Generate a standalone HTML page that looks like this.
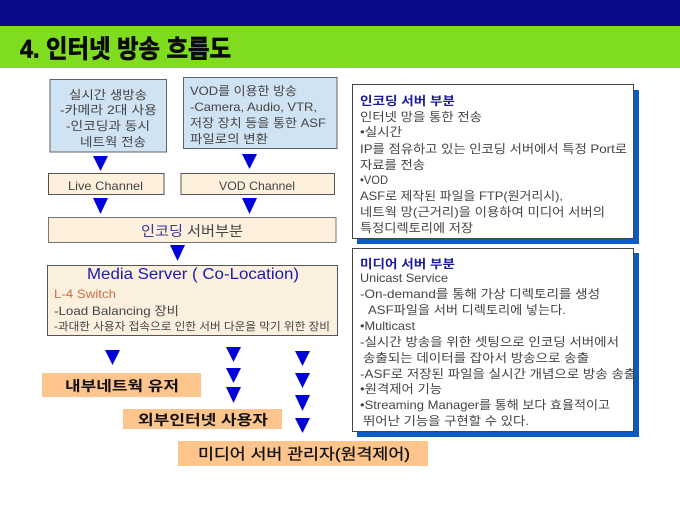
<!DOCTYPE html>
<html><head><meta charset="utf-8"><style>
html,body{margin:0;padding:0;background:#fff;width:680px;height:510px;overflow:hidden}
svg{display:block;filter:blur(0.35px)}
text{font-family:"Liberation Sans","Noto Sans CJK KR",sans-serif;fill:#444;font-size:12px}
</style></head><body>
<svg width="680" height="510" viewBox="0 0 680 510" xmlns="http://www.w3.org/2000/svg">
<rect width="680" height="510" fill="#fff"/>
<rect width="680" height="26" fill="#0a0a8a"/>
<rect y="26" width="680" height="42" fill="#80dc1e"/>
<text x="20" y="57.500" style="font-size:25px;font-weight:bold;fill:#0a0a0a;stroke:#0a0a0a;stroke-width:.7" textLength="211" lengthAdjust="spacingAndGlyphs">4. 인터넷 방송 흐름도</text>

<rect x="50" y="79.500" width="116.500" height="72.500" fill="#cfe3f2" stroke="#5a6570" stroke-width="1"/>
<rect x="183.500" y="77.500" width="153.500" height="71" fill="#cfe3f2" stroke="#5a6570" stroke-width="1"/>
<text x="69" y="99" textLength="78" lengthAdjust="spacingAndGlyphs">실시간 생방송</text>
<text x="60" y="114" textLength="97" lengthAdjust="spacingAndGlyphs">-카메라 2대 사용</text>
<text x="66" y="130" textLength="84" lengthAdjust="spacingAndGlyphs">-인코딩과 동시</text>
<text x="80" y="146" textLength="66" lengthAdjust="spacingAndGlyphs">네트웍 전송</text>
<text x="190" y="95" textLength="107" lengthAdjust="spacingAndGlyphs">VOD를 이용한 방송</text>
<text x="190" y="111" textLength="127" lengthAdjust="spacingAndGlyphs">-Camera, Audio, VTR,</text>
<text x="190" y="127" textLength="136" lengthAdjust="spacingAndGlyphs">저장 장치 등을 통한 ASF</text>
<text x="190" y="143" textLength="78" lengthAdjust="spacingAndGlyphs">파일로의 변환</text>

<rect x="48.500" y="173.500" width="115.500" height="21" fill="#fdf0dc" stroke="#555" stroke-width="1"/>
<rect x="181" y="173.500" width="153.500" height="21" fill="#fdf0dc" stroke="#555" stroke-width="1"/>
<text x="68" y="190" textLength="75" lengthAdjust="spacingAndGlyphs">Live Channel</text>
<text x="219" y="190" textLength="76" lengthAdjust="spacingAndGlyphs">VOD Channel</text>

<rect x="48.500" y="217.500" width="287.500" height="25" fill="#fdf0dc" stroke="#777" stroke-width="1"/>
<text x="141" y="236" style="font-size:14px;fill:#3a3a9a" textLength="42" lengthAdjust="spacingAndGlyphs">인코딩</text>
<text x="187" y="236" style="font-size:14px" textLength="56" lengthAdjust="spacingAndGlyphs">서버부분</text>

<rect x="47.500" y="265.500" width="290" height="70" fill="#fbf0de" stroke="#555" stroke-width="1"/>
<text x="87" y="279" style="font-size:16px;fill:#1a1ab0" textLength="212" lengthAdjust="spacingAndGlyphs">Media Server ( Co-Location)</text>
<text x="54" y="298" style="font-size:12px;fill:#c8704a" textLength="62" lengthAdjust="spacingAndGlyphs">L-4 Switch</text>
<text x="54" y="315" textLength="125" lengthAdjust="spacingAndGlyphs">-Load Balancing 장비</text>
<text x="54" y="330" style="font-size:11px" textLength="276" lengthAdjust="spacingAndGlyphs">-과대한 사용자 접속으로 인한 서버 다운을 막기 위한 장비</text>

<g fill="#0000d8">
<polygon points="93,156 108,156 100.500,171"/>
<polygon points="242,154 257,154 249.500,169"/>
<polygon points="93,198 108,198 100.500,214"/>
<polygon points="242,198 257,198 249.500,214"/>
<polygon points="170,245 185,245 177.500,261"/>
<polygon points="105,350 120,350 112.500,365"/>
<polygon points="226,347 241,347 233.500,362"/>
<polygon points="226,368 241,368 233.500,383"/>
<polygon points="226,387 241,387 233.500,403"/>
<polygon points="295,351 310,351 302.500,366"/>
<polygon points="295,373 310,373 302.500,388"/>
<polygon points="295,395 310,395 302.500,411"/>
<polygon points="295,418 310,418 302.500,433"/>
</g>

<rect x="42" y="373" width="159" height="24" fill="#fdc58c"/>
<rect x="123" y="409" width="159" height="20" fill="#fdc58c"/>
<rect x="178" y="441" width="250" height="25" fill="#fdc58c"/>
<text x="65" y="391" style="font-size:14px;fill:#111;font-weight:bold" textLength="114" lengthAdjust="spacingAndGlyphs">내부네트웍 유저</text>
<text x="138" y="425" style="font-size:14px;fill:#111;font-weight:bold" textLength="130" lengthAdjust="spacingAndGlyphs">외부인터넷 사용자</text>
<text x="198" y="459" style="font-size:15px;fill:#111;stroke:#111;stroke-width:.3" textLength="212" lengthAdjust="spacingAndGlyphs">미디어 서버 관리자(원격제어)</text>

<rect x="357" y="90" width="282" height="154" fill="#0a5cc0"/>
<rect x="352.500" y="84.500" width="281" height="154" fill="#fff" stroke="#444" stroke-width="1"/>
<text x="360" y="105" style="fill:#1a1a9a;font-weight:bold" textLength="95" lengthAdjust="spacingAndGlyphs">인코딩 서버 부분</text>
<text x="360" y="121" textLength="122" lengthAdjust="spacingAndGlyphs">인터넷 망을 통한 전송</text>
<text x="360" y="136" textLength="42" lengthAdjust="spacingAndGlyphs">•실시간</text>
<text x="360" y="153" textLength="267" lengthAdjust="spacingAndGlyphs">IP를 점유하고 있는 인코딩 서버에서 특정 Port로</text>
<text x="360" y="169" textLength="65" lengthAdjust="spacingAndGlyphs">자료를 전송</text>
<text x="360" y="184" textLength="28" lengthAdjust="spacingAndGlyphs">•VOD</text>
<text x="360" y="200" textLength="203" lengthAdjust="spacingAndGlyphs">ASF로 제작된 파일을 FTP(원거리시),</text>
<text x="360" y="216" textLength="245" lengthAdjust="spacingAndGlyphs">네트웍 망(근거리)을 이용하여 미디어 서버의</text>
<text x="360" y="232" textLength="113" lengthAdjust="spacingAndGlyphs">특정디렉토리에 저장</text>

<rect x="357" y="253" width="282" height="184" fill="#0a5cc0"/>
<rect x="352.500" y="248.500" width="281" height="183" fill="#fff" stroke="#444" stroke-width="1"/>
<text x="360" y="268" style="fill:#1a1a9a;font-weight:bold" textLength="95" lengthAdjust="spacingAndGlyphs">미디어 서버 부분</text>
<text x="360" y="282" textLength="88" lengthAdjust="spacingAndGlyphs">Unicast Service</text>
<text x="360" y="298" textLength="240" lengthAdjust="spacingAndGlyphs">-On-demand를 통해 가상 디렉토리를 생성</text>
<text x="368" y="314" textLength="198" lengthAdjust="spacingAndGlyphs">ASF파일을 서버 디렉토리에 넣는다.</text>
<text x="360" y="330" textLength="55" lengthAdjust="spacingAndGlyphs">•Multicast</text>
<text x="360" y="346" textLength="259" lengthAdjust="spacingAndGlyphs">-실시간 방송을 위한 셋팅으로 인코딩 서버에서</text>
<text x="363" y="362" textLength="226" lengthAdjust="spacingAndGlyphs">송출되는 데이터를 잡아서 방송으로 송출</text>
<text x="360" y="378" textLength="280" lengthAdjust="spacingAndGlyphs">-ASF로 저장된 파일을 실시간 개념으로 방송 송출.</text>
<text x="360" y="393" textLength="82" lengthAdjust="spacingAndGlyphs">•원격제어 기능</text>
<text x="360" y="409" textLength="250" lengthAdjust="spacingAndGlyphs">•Streaming Manager를 통해 보다 효율적이고</text>
<text x="363" y="425" textLength="166" lengthAdjust="spacingAndGlyphs">뛰어난 기능을 구현할 수 있다.</text>
</svg>
</body></html>
